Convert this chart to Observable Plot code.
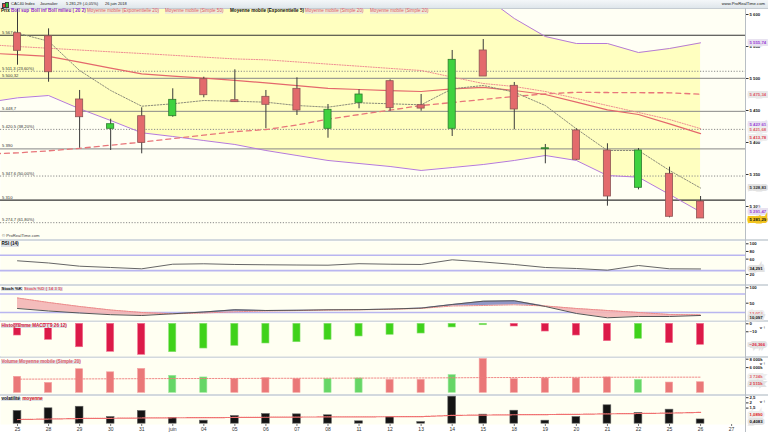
<!DOCTYPE html>
<html><head><meta charset="utf-8">
<script src="https://cdn.jsdelivr.net/npm/d3@7"></script>
<script src="https://cdn.jsdelivr.net/npm/@observablehq/plot@0.6"></script>
<style>
html,body{margin:0;padding:0;background:#fff;}
#root{position:relative;width:768px;height:432px;overflow:hidden;background:#d3d9de;font-family:"Liberation Sans",Arial,sans-serif;}
.panel{position:absolute;left:0;}
.panel svg{overflow:visible;display:block;}
.t{position:absolute;white-space:nowrap;line-height:1;}
.lb{background:#dde2e6;padding:0 0.5px;font-weight:bold;}
</style></head><body><div id="root"></div>
<script>
// ---------- data ----------
const dates = ["25","28","29","30","31","juin","04","05","06","07","08","11","12","13","14","15","18","19","20","21","22","25","26","27"];
const open  = [5570.8,5566.0,5467.2,5421.4,5441.1,5441.1,5498.9,5466.1,5471.4,5483.9,5421.4,5462.0,5495.8,5458.3,5421.4,5543.8,5488.6,5389.5,5418.8,5387.5,5329.2,5351.1,5307.8];
const high  = [5610.0,5577.6,5481.3,5436.4,5454.2,5483.9,5502.0,5513.6,5481.3,5501.1,5459.4,5482.3,5498.0,5475.0,5543.8,5560.9,5493.8,5396.9,5421.4,5398.0,5390.6,5361.4,5315.6];
const low   = [5520.8,5494.2,5391.1,5387.5,5382.3,5439.5,5469.8,5463.0,5421.4,5442.2,5406.7,5452.7,5448.9,5448.9,5409.4,5503.1,5419.8,5366.7,5371.9,5300.5,5326.0,5282.3,5281.29];
const close = [5543.3,5509.8,5439.5,5428.6,5399.5,5466.7,5473.9,5463.0,5458.9,5450.0,5451.1,5475.0,5453.6,5453.0,5529.2,5503.1,5451.6,5391.0,5373.0,5315.6,5387.5,5283.9,5281.29];
// overlays: first value belongs to the session before "25" (off the left edge)
const bollUpper = [5630.0,5630.2,5621.3,5636.4,5649.1,5663.0,5663.1,5663.8,5664.4,5670.9,5672.2,5673.1,5671.3,5669.1,5668.8,5643.4,5629.7,5593.8,5565.6,5554.7,5554.7,5540.6,5546.9,5555.74];
const bollLower = [5462.5,5469.8,5473.4,5452.7,5434.4,5415.2,5409.4,5403.1,5396.9,5387.5,5379.7,5371.9,5367.2,5362.5,5356.3,5360.9,5365.6,5371.9,5379.7,5371.9,5348.4,5345.8,5318.8,5291.47];
const sma20 = [5553.1,5550.0,5547.3,5544.5,5541.7,5539.1,5536.3,5533.4,5530.6,5529.2,5525.9,5522.5,5519.2,5515.8,5512.5,5502.2,5492.2,5487.5,5479.7,5468.8,5457.8,5446.9,5435.9,5421.68];
const ema20 = [5539.8,5537.2,5534.5,5525.6,5516.3,5507.2,5503.8,5500.5,5497.0,5493.3,5488.9,5484.7,5482.8,5481.1,5479.7,5483.9,5486.1,5481.3,5475.0,5463.0,5451.1,5443.8,5429.2,5413.78];
const sma50 = [5382.0,5383.8,5387.0,5390.9,5395.8,5400.6,5406.1,5411.6,5416.9,5420.2,5427.3,5436.6,5443.6,5450.6,5457.7,5462.5,5467.3,5472.0,5475.9,5478.4,5478.1,5477.8,5477.7,5475.34];
const ema5  = [5570.8,5558.3,5512.5,5481.3,5456.7,5460.5,5465.6,5464.5,5463.0,5457.8,5455.2,5462.0,5460.5,5458.9,5483.9,5489.1,5478.6,5457.8,5421.4,5387.5,5387.5,5356.3,5328.83];
const bollMid = 5423.61;
const levels = [5567.6,5500.32,5448.7,5390,5310];
const levelLabels = ["5 567,6","5 500,32","5 448,7","5 390","5 310"];
const fibLevels = [5511.3,5420.5,5347.6,5274.7];
const fibLabels = ["5 511,3 (23,60%)","5 420,5 (38,20%)","5 347,6 (50,00%)","5 274,7 (61,80%)"];
const priceTicks = [5300,5350,5400,5450,5500,5550,5600];

const rsi    = [55.6,49.9,41.5,38.1,34.7,46.7,47.8,46.0,45.2,44.6,44.1,48.0,46.7,46.0,58.2,52.5,46.0,38.1,35.5,31.1,43.3,34.7,34.291];
const stochK = [32.8,24.7,18.2,12.7,10.0,15.6,21.4,28.6,26.3,27.0,28.6,29.0,31.0,34.0,45.8,56.5,57.8,39.3,16.6,2.6,6.8,6.8,10.097];
const stochD = [66.9,52.3,39.3,27.9,19.8,15.6,18.2,22.1,24.7,26.0,27.5,28.5,30.0,33.0,40.9,42.5,44.8,40.9,32.8,26.3,19.8,13.3,12.073];
const macdHist = [-14.7,-20.1,-29.4,-35.1,-38.9,-35.6,-31.0,-27.6,-24.7,-23.1,-20.1,-15.9,-13.8,-12.2,-4.6,-1.8,-3.4,-9.7,-14.7,-21.8,-18.8,-24.3,-26.366];
const volume   = [3805,2341,5610,4878,5683,4049,3659,3244,3488,3244,3244,3415,3073,3073,4220,8049,3244,3415,3415,3659,3073,2439,2515];
const volumeMA = [3250,3270,3300,3330,3360,3390,3400,3420,3440,3460,3480,3500,3520,3540,3570,3620,3640,3660,3680,3700,3710,3720,3724];
const volat    = [1.22,1.48,1.63,0.64,1.22,0.55,0.29,0.74,0.93,0.90,0.81,0.23,0.62,0.16,2.60,0.87,1.25,0.29,0.64,1.77,1.03,1.35,0.4083];
const volatAvg = [0.40,0.45,0.50,0.52,0.55,0.57,0.58,0.60,0.62,0.64,0.65,0.66,0.67,0.68,0.80,0.83,0.86,0.88,0.90,0.95,0.98,1.02,1.089];

// ---------- helpers ----------
const fr = d3.formatLocale({decimal: ",", thousands: "\u00a0", grouping: [3], currency: ["", ""]});
const fInt = fr.format(",");
const f2 = fr.format(",.2f");
const f3 = fr.format(",.3f");
const f4 = fr.format(",.4f");
const fk = v => fInt(v) + "k";
const FONT = "Liberation Sans, Arial, sans-serif";
const xDomain = [-0.548, 23.447];
const W = 768, MR = 23;
const root = document.getElementById("root");

function place(svg, top) {
  const d = document.createElement("div");
  d.className = "panel"; d.style.top = top + "px";
  d.appendChild(svg); root.appendChild(d);
}
function tag(v, text, color, bg, dy = 0) {
  return Plot.text([v], {y: d => d, text: () => text, frameAnchor: "right", dx: 4, dy, textAnchor: "start",
    fill: color, fontSize: 4.3, fontWeight: "bold", stroke: bg || "none", strokeWidth: bg ? 4 : 0, paintOrder: "stroke", strokeLinejoin: "miter"});
}
function rAxis(ticks, fmt) {
  return Plot.axisY({anchor: "right", ticks, tickFormat: fmt, tickSize: 2.5, tickPadding: 1.5, fontSize: 4.3, fontWeight: "bold", stroke: "#333", fill: "#222"});
}
function base(height, domain, extra = {}) {
  return Object.assign({width: W, height, marginLeft: 0, marginRight: MR, marginTop: 0, marginBottom: 0,
    x: {domain: xDomain, axis: null}, y: {domain, axis: null},
    style: {background: "#fff", fontFamily: FONT, overflow: "visible"}}, extra);
}

const candles = open.map((o, i) => ({i, o, h: high[i], l: low[i], c: close[i]}));
const ov = bollUpper.map((u, k) => ({i: k - 1, up: u, lo: bollLower[k], s20: sma20[k], e20: ema20[k], s50: sma50[k]}));
const e5 = ema5.map((v, i) => ({i, v}));
const up = d => d.c >= d.o;

// ---------- main price panel ----------
const main = Plot.plot(base(230.5, [5249.2, 5609.4], {marks: [
  Plot.frame({fill: "#fffff4"}),
  Plot.areaY(ov, {x: "i", y1: "lo", y2: "up", fill: "#ffffc0", clip: true}),
  Plot.ruleY(fibLevels, {stroke: "#8a8a8a", strokeDasharray: "1.2,1.6", strokeWidth: 1}),
  Plot.ruleY(levels.filter((d, i) => i === 0 || i === 4), {stroke: "#333", strokeWidth: 1.2}),
  Plot.ruleY(levels.filter((d, i) => i > 0 && i < 4), {stroke: "#888", strokeWidth: 1}),
  Plot.text(levels, {y: d => d, text: (d, i) => levelLabels[i], frameAnchor: "left", dx: 1.5, dy: -2.8, textAnchor: "start", fontSize: 4.2, fill: "#333"}),
  Plot.text(fibLevels, {y: d => d, text: (d, i) => fibLabels[i], frameAnchor: "left", dx: 1.5, dy: -2.8, textAnchor: "start", fontSize: 4.2, fill: "#333"}),
  Plot.line(ov, {x: "i", y: "up", stroke: "#b57ad8", strokeWidth: 1, clip: true}),
  Plot.line(ov, {x: "i", y: "lo", stroke: "#b57ad8", strokeWidth: 1, clip: true}),
  Plot.line(ov, {x: "i", y: "s50", stroke: "#e8767a", strokeWidth: 1.3, strokeDasharray: "5,4", clip: true}),
  Plot.line(ov, {x: "i", y: "s20", stroke: "#ee8d92", strokeWidth: 1, strokeDasharray: "1.2,1.4", clip: true}),
  Plot.line(ov, {x: "i", y: "e20", stroke: "#e4686c", strokeWidth: 1.2, clip: true}),
  Plot.line(e5, {x: "i", y: "v", stroke: "#8c8c7a", strokeWidth: 1, strokeDasharray: "1.5,1.5", clip: true}),
  Plot.ruleX(candles, {x: "i", y1: "l", y2: "h", stroke: "#3a3a3a", strokeWidth: 1, clip: true}),
  Plot.rect(candles.filter(d => !up(d)), {x1: d => d.i - 0.115, x2: d => d.i + 0.115, y1: "o", y2: "c", fill: "#e36a6c", stroke: "#8d5555", strokeWidth: 0.8}),
  Plot.rect(candles.filter(up), {x1: d => d.i - 0.115, x2: d => d.i + 0.115, y1: "o", y2: "c", fill: "#3fd23f", stroke: "#2e7a2e", strokeWidth: 0.8}),
  Plot.text(["\u00a9 ProRealTime.com"], {frameAnchor: "bottom-left", dx: 1.5, dy: -2, textAnchor: "start", fontSize: 4.2, fill: "#444"}),
  rAxis(priceTicks, fInt),
  tag(bollUpper[23], f2(bollUpper[23]), "#9b3fd6", "#e8e2f0"),
  tag(sma50[23], f2(sma50[23]), "#e0606a", "#e8e8e8"),
  tag(bollMid, f2(bollMid), "#9b3fd6", "#e8e2f0", -2.5),
  tag(sma20[23], f2(sma20[23]), "#e0606a", "#eeeeee", 0.8),
  tag(ema20[23], f2(ema20[23]), "#e0404a", "#eeeeee", 3.5),
  tag(ema5[22], f2(ema5[22]), "#333", "#e2e2e2"),
  tag(bollLower[23], f2(bollLower[23]), "#9b3fd6", "#e8e2f0", -0.5),
  tag(close[22], f2(close[22]), "#111", "#f2c521", 1.2)
]}));
place(main, 8);

// ---------- RSI ----------
const rsiP = Plot.plot(base(42.5, [-5, 106], {marks: [
  Plot.frame({fill: "#fffff2"}),
  Plot.ruleY([70, 30], {stroke: "#b9b6f0", strokeWidth: 1.6}),
  Plot.lineY(rsi, {x: (d, i) => i, y: d => d, stroke: "#666", strokeWidth: 1}),
  rAxis([100, 80, 60, 20], fInt),
  tag(rsi[22], f3(rsi[22]), "#111", "#e2e2e2")
]}));
place(rsiP, 241);

// ---------- Stochastic ----------
const st = stochK.map((k, i) => ({i, k, d: stochD[i]}));
const stP = Plot.plot(base(34, [-6.2, 104.2], {marks: [
  Plot.frame({fill: "#fffff2"}),
  Plot.ruleY([80, 20], {stroke: "#b9b6f0", strokeWidth: 1.4}),
  Plot.areaY(st, {x: "i", y1: "k", y2: d => Math.max(d.k, d.d), fill: "#f3b5b5", fillOpacity: 0.9}),
  Plot.areaY(st, {x: "i", y1: "d", y2: d => Math.max(d.k, d.d), fill: "#9196c6"}),
  Plot.line(st, {x: "i", y: "d", stroke: "#ec8a8a", strokeWidth: 1, strokeDasharray: "1.5,1"}),
  Plot.line(st, {x: "i", y: "k", stroke: "#555", strokeWidth: 1}),
  rAxis([100, 50], fInt),
  tag(stochD[22], f3(stochD[22]), "#e0606a", "#eeeeee", -1.5),
  tag(stochK[22], f3(stochK[22]), "#111", "#e2e2e2", 2.5)
]}));
place(stP, 286);

// ---------- MACD histogram ----------
const mh = macdHist.map((v, i) => ({i, v, dn: i === 0 || v < macdHist[i - 1]}));
const mP = Plot.plot(base(34, [-41, 1.63], {marks: [
  Plot.frame({fill: "#fffff2"}),
  Plot.rect(mh.filter(d => d.dn), {x1: d => d.i - 0.115, x2: d => d.i + 0.115, y1: () => 0, y2: "v", fill: "#dc1a48", stroke: "#f07090", strokeWidth: 0.6}),
  Plot.rect(mh.filter(d => !d.dn), {x1: d => d.i - 0.115, x2: d => d.i + 0.115, y1: () => 0, y2: "v", fill: "#3fd21a", stroke: "#88e070", strokeWidth: 0.6}),
  rAxis([0, -10], fInt),
  tag(macdHist[22], f3(macdHist[22]), "#e0203a", "#e2e2e2")
]}));
place(mP, 322);

// ---------- Volume ----------
const vd = volume.map((v, i) => ({i, v, dn: i === 0 || close[i] < close[i - 1]}));
const vP = Plot.plot(base(35.5, [-286, 8167], {marks: [
  Plot.frame({fill: "#fffff2"}),
  Plot.rect(vd.filter(d => d.dn), {x1: d => d.i - 0.115, x2: d => d.i + 0.115, y1: () => 0, y2: "v", fill: "#ea7878", stroke: "#f4a0a0", strokeWidth: 0.6}),
  Plot.rect(vd.filter(d => !d.dn), {x1: d => d.i - 0.115, x2: d => d.i + 0.115, y1: () => 0, y2: "v", fill: "#66d666", stroke: "#9ce89c", strokeWidth: 0.6}),
  Plot.lineY(volumeMA, {x: (d, i) => i, y: d => d, stroke: "#ee7a7a", strokeWidth: 0.9, strokeDasharray: "1.5,1.5"}),
  rAxis([8000, 6000], fk),
  tag(volumeMA[22], fk(volumeMA[22]), "#e0606a", "#eeeeee", -1),
  tag(volume[22], fk(volume[22]), "#e0404a", "#e2e2e2", 1.5)
]}));
place(vP, 358);

// ---------- Volatility + x axis ----------
const vtP = Plot.plot(base(36.5, [-0.077, 2.615], {marginBottom: 8.5, marks: [
  Plot.frame({fill: "#fffff2"}),
  Plot.rect(volat.map((v, i) => ({i, v})), {x1: d => d.i - 0.125, x2: d => d.i + 0.125, y1: () => 0, y2: "v", fill: "#141414", stroke: "#666", strokeWidth: 0.6}),
  Plot.lineY(volatAvg, {x: (d, i) => i, y: d => d, stroke: "#f07070", strokeWidth: 1.2, strokeDasharray: "1,0.8"}),
  rAxis([2.5, 2, 1.5], d => fr.format(".1~f")(d)),
  tag(volatAvg[22], f4(volatAvg[22]), "#e02020", "#eeeeee", 1.8),
  tag(volat[22], f4(volat[22]), "#111", "#e2e2e2", 2.2),
  Plot.axisX({ticks: d3.range(dates.length), tickFormat: i => dates[i], tickSize: 2, tickPadding: 1, fontSize: 5, fill: "#333", stroke: "#777"})
]}));
place(vtP, 395.5);

// ---------- html text: header, legends ----------
function txt(s, left, top, size, color, cls, extra) {
  const e = document.createElement("div");
  e.className = "t" + (cls ? " " + cls : "");
  e.textContent = s;
  Object.assign(e.style, {left: left + "px", top: top + "px", fontSize: size + "px", color}, extra || {});
  root.appendChild(e);
  return e;
}
const hdr = document.createElement("div");
Object.assign(hdr.style, {position: "absolute", left: "0", top: "0", width: "768px", height: "8px", background: "linear-gradient(#f4f7f9,#dfe6eb)", borderBottom: "0.5px solid #c5ccd2"});
root.appendChild(hdr);
// tiny candle icon
[["2px", "2.5px", "3.5px", "#e04040"], ["5px", "1.5px", "4.5px", "#30c030"]].forEach(([l, t, h, c]) => {
  const b = document.createElement("div");
  Object.assign(b.style, {position: "absolute", left: l, top: t, width: "2px", height: h, background: c, border: "0.3px solid #444"});
  root.appendChild(b);
});
txt("CAC40 Index", 11, 2, 4, "#222");
txt("Journalier", 40, 2, 4, "#222");
txt("5 281,29 (-0,05%)", 66, 2, 4, "#222");
txt("26 juin 2018", 105, 2, 4, "#222");
txt("www.ProRealTime.com", 0, 2, 4.2, "#222", "", {left: "auto", right: "3px"});

const legY = 9.3;
txt("Prix", 1, legY, 4.6, "#111", "", {fontWeight: "bold"});
txt("Boll sup", 11, legY, 4.6, "#8a2ad0", "", {fontWeight: "bold"});
txt("Boll inf", 31, legY, 4.6, "#8a2ad0", "", {fontWeight: "bold"});
txt("Boll milieu ( 20 2)", 48, legY, 4.6, "#8a2ad0", "", {fontWeight: "bold"});
txt("Moyenne mobile (Exponentielle 20)", 87, legY, 4.6, "#e25a66", "", {background: "#ecebd8"});
txt("Moyenne mobile (Simple 50)", 165, legY, 4.6, "#e25a66", "", {background: "#ecebd8"});
txt("Moyenne mobile (Exponentielle 5)", 230, legY, 4.6, "#111", "", {fontWeight: "bold"});
txt("Moyenne mobile (Simple 20)", 305, legY, 4.6, "#e25a66", "", {background: "#ecebd8"});
txt("Moyenne mobile (Simple 20)", 370, legY, 4.6, "#e25a66", "", {background: "#ecebd8"});

txt("RSI (14)", 1, 242, 4.6, "#111", "lb");
txt("Stoch %K", 1, 287, 4.4, "#111", "lb");
txt("Stoch %D ( 14 3 5)", 23.5, 287, 4.4, "#e25a66", "lb");
txt("Histogramme MACD ( 9 26 12)", 1, 323.5, 4.6, "#d8203c", "lb");
txt("Volume  Moyenne mobile (Simple 20)", 1, 359.5, 4.6, "#e25a66", "lb");
txt("volatilité", 1, 396.5, 4.6, "#111", "lb");
txt("moyenne", 22, 396.5, 4.6, "#e02020", "lb");

// right-hand axis divider
const vline = document.createElement("div");
Object.assign(vline.style, {position: "absolute", left: "745px", top: "8px", width: "0.8px", height: "424px", background: "#b8bec4"});
root.appendChild(vline);
</script></body></html>
